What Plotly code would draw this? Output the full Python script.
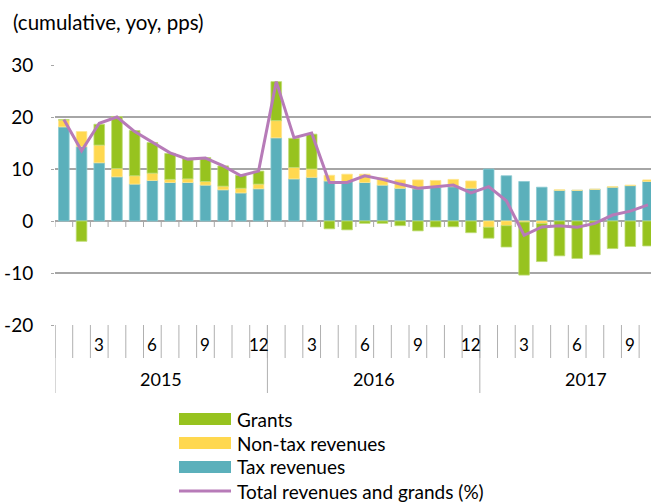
import plotly.graph_objects as go

# ---- data (Jan 2015 .. Oct 2017) ----
months = list(range(34))
month_labels = (["", "", "3", "", "", "6", "", "", "9", "", "", "12"] * 3)[:34]
years = ["2015", "2016", "2017"]
year_centers = [5.5, 17.5, 29.5]
year_bounds = [-0.5, 11.5, 23.5, 35.5]
y_ticks = [-20, -10, 0, 10, 20, 30]
y_tick_text = ["-20", "-10", "0", "10", "20", "30"]

tax = [18.1, 14.3, 11.2, 8.5, 7.1, 7.8, 7.4, 7.4, 6.9, 6.0, 5.4, 6.2,
       16.0, 8.1, 8.4, 7.7, 7.6, 7.4, 6.9, 6.3, 6.2, 6.5, 6.6, 6.3,
       10.0, 8.7, 7.6, 6.5, 5.9, 5.9, 6.1, 6.5, 6.8, 7.6]
nontax = [1.3, 2.9, 3.4, 1.6, 1.6, 1.4, 0.6, 0.7, 0.7, 0.7, 0.9, 0.9,
          3.3, 2.2, 1.6, 1.1, 1.4, 1.6, 1.4, 1.6, 1.7, 1.3, 1.4, 1.4,
          -1.2, -0.9, -0.2, -0.5, 0.1, 0.0, 0.0, 0.1, 0.1, 0.3]
grants = [0.1, -3.9, 4.0, 10.0, 8.7, 5.9, 5.0, 3.9, 4.6, 3.9, 2.5, 2.5,
          7.5, 5.6, 6.7, -1.5, -1.7, -0.45, -0.45, -0.9, -1.9, -1.15, -1.1, -2.25,
          -2.1, -4.1, -10.2, -7.3, -6.7, -7.2, -6.5, -5.3, -4.9, -4.8]
total = [19.5, 13.5, 18.8, 20.0, 17.2, 15.2, 13.1, 11.9, 12.1, 10.6, 8.7, 9.6,
         26.8, 16.0, 16.9, 7.4, 7.4, 8.7, 8.0, 7.1, 6.3, 6.6, 6.9, 5.4,
         6.6, 3.9, -2.75, -1.15, -0.9, -1.2, -0.45, 1.15, 1.9, 3.1]

C_GRANT = "#97C31F"
C_NONTAX = "#FFD84F"
C_TAX = "#5BB0BB"
C_LINE = "#B77BB8"
C_GRID = "#A6A6A6"
FONT = "Lato"

W, H = 651, 502
L, R, T, B = 55, 0, 65, 177
PW, PH = W - L - R, H - T - B


def py(ypx):  # pixel y -> paper y
    return (H - B - ypx) / PH


def px(xpx):
    return (xpx - L) / PW


fig = go.Figure()
fig.add_bar(x=months, y=tax, name="Tax revenues", marker_color=C_TAX,
            marker_line_color="#8CCAD2", marker_line_width=0.8)
fig.add_bar(x=months, y=nontax, name="Non-tax revenues", marker_color=C_NONTAX,
            marker_line_color="#FFE68F", marker_line_width=0.8)
fig.add_bar(x=months, y=grants, name="Grants", marker_color=C_GRANT,
            marker_line_color="#BEDC73", marker_line_width=0.8)
fig.add_scatter(x=months, y=total, mode="lines", name="Total revenues and grands (%)",
                line=dict(color=C_LINE, width=3))

shapes = []
annots = []
bounds = [i - 0.5 for i in range(35)]
for b in bounds:
    shapes.append(dict(type="line", xref="x", yref="y", x0=b, x1=b, y0=0, y1=-1.15,
                       line=dict(color=C_GRID, width=1), layer="below"))
    shapes.append(dict(type="line", xref="x", yref="paper", x0=b, x1=b, y0=0, y1=py(358),
                       line=dict(color="#B0B0B0", width=1)))
for b in year_bounds:
    shapes.append(dict(type="line", xref="x", yref="paper", x0=b, x1=b, y0=0, y1=py(393),
                       line=dict(color="#B0B0B0", width=1)))

for m, lab in zip(months, month_labels):
    if lab:
        annots.append(dict(x=m, y=py(344), xref="x", yref="paper", text=lab, showarrow=False,
                           yanchor="middle", font=dict(family=FONT, size=17, color="#000")))
for c, yl in zip(year_centers, years):
    annots.append(dict(x=c, y=py(379), xref="x", yref="paper", text=yl, showarrow=False,
                       yanchor="middle", font=dict(family=FONT, size=18, color="#000")))

annots.append(dict(x=px(11), y=py(22), xref="paper", yref="paper", xanchor="left",
                   yanchor="middle", text="(cumulative, yoy, pps)", showarrow=False,
                   font=dict(family=FONT, size=20.5, color="#000")))

# custom legend
leg = [("Grants", C_GRANT, 419, "rect"), ("Non-tax revenues", C_NONTAX, 443, "rect"),
       ("Tax revenues", C_TAX, 467, "rect"), ("Total revenues and grands (%)", C_LINE, 491, "line")]
for name, col, yc, kind in leg:
    if kind == "rect":
        shapes.append(dict(type="rect", xref="paper", yref="paper", x0=px(179), x1=px(231),
                           y0=py(yc + 6), y1=py(yc - 6), fillcolor=col, line=dict(width=0)))
    else:
        shapes.append(dict(type="line", xref="paper", yref="paper", x0=px(179), x1=px(231),
                           y0=py(yc), y1=py(yc), line=dict(color=col, width=3)))
    annots.append(dict(x=px(235), y=py(yc), xref="paper", yref="paper", xanchor="left",
                       yanchor="middle", text=name, showarrow=False,
                       font=dict(family=FONT, size=19, color="#000")))

fig.update_layout(
    width=W, height=H, margin=dict(l=L, r=R, t=T, b=B, autoexpand=False),
    paper_bgcolor="white", plot_bgcolor="white",
    barmode="relative", bargap=0.4, showlegend=False,
    shapes=shapes, annotations=annots,
    font=dict(family=FONT, size=19, color="#000"),
)
fig.update_xaxes(range=[-0.5, 33.17], showticklabels=False, showgrid=False, zeroline=False,
                 showline=False, ticks="")
fig.update_yaxes(range=[-20, 30], tickvals=y_ticks, ticktext=y_tick_text,
                 showgrid=True, gridcolor=C_GRID,
                 gridwidth=1.5, zeroline=False, showline=False, ticks="outside", ticklen=3,
                 tickcolor=C_GRID, ticklabelstandoff=14,
                 tickfont=dict(family=FONT, size=19, color="#000"))

fig.write_html("out.html", config={"displayModeBar": False},
               post_script="document.body.style.margin='0';document.body.style.padding='0';")
